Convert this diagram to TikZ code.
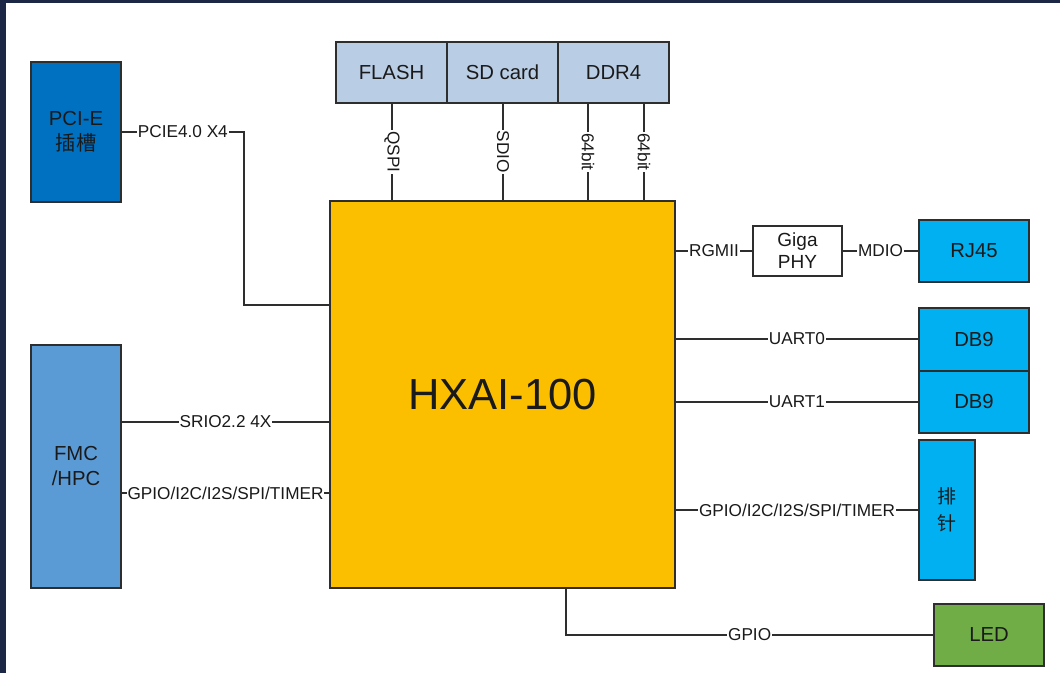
\documentclass[tikz,border=0pt]{standalone}
\usepackage{fontspec}
\setmainfont{Liberation Sans}
\newfontfamily\cjk{Noto Sans CJK SC}
\definecolor{frame}{HTML}{1B2744}
\definecolor{edge}{HTML}{2E2E2E}
\definecolor{txt}{HTML}{1A1A1A}
\definecolor{pciec}{HTML}{0070C0}
\definecolor{fmcc}{HTML}{5B9BD5}
\definecolor{memc}{HTML}{B9CDE5}
\definecolor{mainc}{HTML}{FCBF00}
\definecolor{conc}{HTML}{00B0F0}
\definecolor{ledc}{HTML}{70AD47}
\tikzset{
  blk/.style={draw=edge, line width=1.5pt, rectangle, inner sep=0pt, align=center, text=txt,
    font=\fontsize{20.3}{25}\selectfont},
  lbl/.style={fill=white, inner sep=1pt, text=txt, font=\fontsize{17.2}{19}\selectfont},
  vlbl/.style={lbl, rotate=-90},
  wire/.style={draw=edge, line width=1.6pt},
}
\begin{document}
\begin{tikzpicture}[x=1pt, y=-1pt]
\useasboundingbox (0,0) rectangle (1060,673);
\fill[white] (0,0) rectangle (1060,673);
\fill[frame] (0,0) rectangle (1060,3);
\fill[frame] (0,0) rectangle (6,673);

% boxes
\node[blk, fill=pciec, minimum width=90pt, minimum height=140pt] (pcie) at (76,132) {PCI-E\\{\cjk 插槽}};
\node[blk, fill=fmcc, minimum width=90pt, minimum height=243pt] (fmc) at (76,466.5) {FMC\\/HPC};
\node[blk, fill=memc, minimum width=111pt, minimum height=61pt] (flash) at (391.5,72.5) {FLASH};
\node[blk, fill=memc, minimum width=111pt, minimum height=61pt] (sd) at (502.5,72.5) {SD card};
\node[blk, fill=memc, minimum width=111pt, minimum height=61pt] (ddr) at (613.5,72.5) {DDR4};
\node[blk, fill=mainc, minimum width=345pt, minimum height=387pt, font=\fontsize{43.5}{46}\selectfont] (main) at (502.5,394.5) {HXAI-100};
\node[blk, fill=white, minimum width=89pt, minimum height=50pt, font=\fontsize{19}{22}\selectfont] (giga) at (797.5,251) {Giga\\PHY};
\node[blk, fill=conc, minimum width=110pt, minimum height=62pt] (rj45) at (974,251) {RJ45};
\node[blk, fill=conc, minimum width=110pt, minimum height=63pt] (db9a) at (974,339.5) {DB9};
\node[blk, fill=conc, minimum width=110pt, minimum height=62pt] (db9b) at (974,402) {DB9};
\node[blk, fill=conc, minimum width=56pt, minimum height=140pt, font=\cjk\fontsize{19}{27}\selectfont] (pin) at (947,510) {排\\针};
\node[blk, fill=ledc, minimum width=110pt, minimum height=62pt] (led) at (989,635) {LED};

% top connections
\coordinate (q1) at ([xshift=0.5pt]flash.south);
\coordinate (q2) at ([xshift=0.5pt]sd.south);
\draw[wire] (q1) -- node[vlbl]{QSPI} (q1 |- main.north);
\draw[wire] (q2) -- node[vlbl]{SDIO} (q2 |- main.north);
\coordinate (d1) at ([xshift=-25.5pt]ddr.south);
\coordinate (d2) at ([xshift=30.5pt]ddr.south);
\draw[wire] (d1) -- node[vlbl]{64bit} (d1 |- main.north);
\draw[wire] (d2) -- node[vlbl]{64bit} (d2 |- main.north);

% left connections
\coordinate (pbend) at (244,132);
\coordinate (pin1) at (main.west |- 0,305);
\draw[wire] (pcie.east) -- node[lbl]{PCIE4.0 X4} (pbend) |- (pin1);
\coordinate (s1) at (main.west |- 0,422);
\draw[wire] (fmc.east |- s1) -- node[lbl]{SRIO2.2 4X} (s1);
\coordinate (g1) at (main.west |- 0,493);
\draw[wire] (fmc.east |- g1) -- node[lbl]{GPIO/I2C/I2S/SPI/TIMER} (g1);

% right connections
\draw[wire] (main.east |- giga.west) -- node[lbl]{RGMII} (giga.west);
\draw[wire] (giga.east) -- node[lbl]{MDIO} (rj45.west);
\coordinate (u0) at (main.east |- 0,339);
\draw[wire] (u0) -- node[lbl]{UART0} (db9a.west |- u0);
\draw[wire] (main.east |- db9b.west) -- node[lbl]{UART1} (db9b.west);
\draw[wire] (main.east |- pin.west) -- node[lbl]{GPIO/I2C/I2S/SPI/TIMER} (pin.west);

% bottom connection
\coordinate (l1) at (566,588);
\coordinate (l2) at (566,635);
\draw[wire] (l1) -- (l2) -- node[lbl]{GPIO} (led.west);
\end{tikzpicture}
\end{document}
